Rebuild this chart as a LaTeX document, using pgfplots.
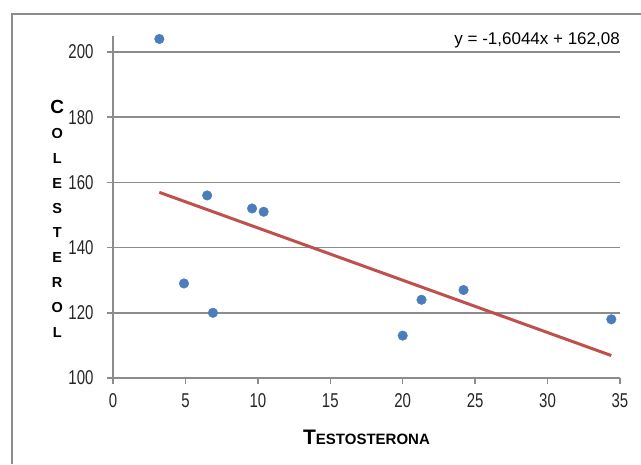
\documentclass[border=0pt]{standalone}
\usepackage{pgfplots}
\pgfplotsset{compat=1.18}
\usepackage{fontspec}
\setmainfont{Liberation Sans}
\newfontfamily\narrowfont{Liberation Sans}[FakeStretch=0.75]
\definecolor{ptblue}{HTML}{4A7EBB}
\definecolor{trendred}{HTML}{C0504D}
\definecolor{gridgray}{HTML}{8C8C8C}
\begin{document}
\begin{tikzpicture}
\path[use as bounding box] (-113pt,-86pt) rectangle (528pt,378pt);
\draw[gridgray, line width=1.5pt] (-101pt,-86pt) -- (-101pt,364pt) -- (528pt,364pt);
\begin{axis}[
  scale only axis, width=507pt, height=342.3pt,
  xmin=0, xmax=35, ymin=100, ymax=205,
  axis lines=left,
  axis line style={gridgray, line width=1.5pt, -},
  xtick={0,5,...,35}, ytick={100,120,...,200},
  ymajorgrids, grid style={gridgray, line width=1.5pt},
  tick style={gridgray, line width=1.5pt},
  major tick length=6pt,
  tick align=outside,
  /pgf/number format/assume math mode=true,
  ticklabel style={font=\narrowfont\fontsize{20}{20}\selectfont, text=black!85},
  xticklabel style={yshift=-6pt},
  yticklabel style={xshift=-10pt},
  xlabel={\bfseries{\fontsize{21}{21}\selectfont T}{\fontsize{15}{15}\selectfont ESTOSTERONA}},
  xlabel style={at={(axis description cs:0.5,-0.172)}, anchor=center},
  ylabel={{\fontsize{19}{25}\selectfont C}\\ O\\ L\\ E\\ S\\ T\\ E\\ R\\ O\\ L},
  ylabel style={rotate=-90, at={(axis description cs:-0.11,0.465)}, anchor=center,
    align=center, font=\bfseries\fontsize{14.5}{24.8}\selectfont},
  clip=false,
]
\addplot[only marks, mark=*, mark size=4.8pt, ptblue, mark options={draw=ptblue, fill=ptblue}]
coordinates {
(3.2,204) (4.9,129) (6.5,156) (6.9,120) (9.6,152) (10.4,151)
(20,113) (21.3,124) (24.2,127) (34.4,118)
};
\addplot[trendred, line width=3pt] coordinates {(3.2,156.95) (34.4,106.89)};
\node[anchor=east, font=\fontsize{17}{17}\selectfont, inner sep=0pt] at (axis cs:35,203.6) {y = -1,6044x + 162,08};
\end{axis}
\end{tikzpicture}
\end{document}
